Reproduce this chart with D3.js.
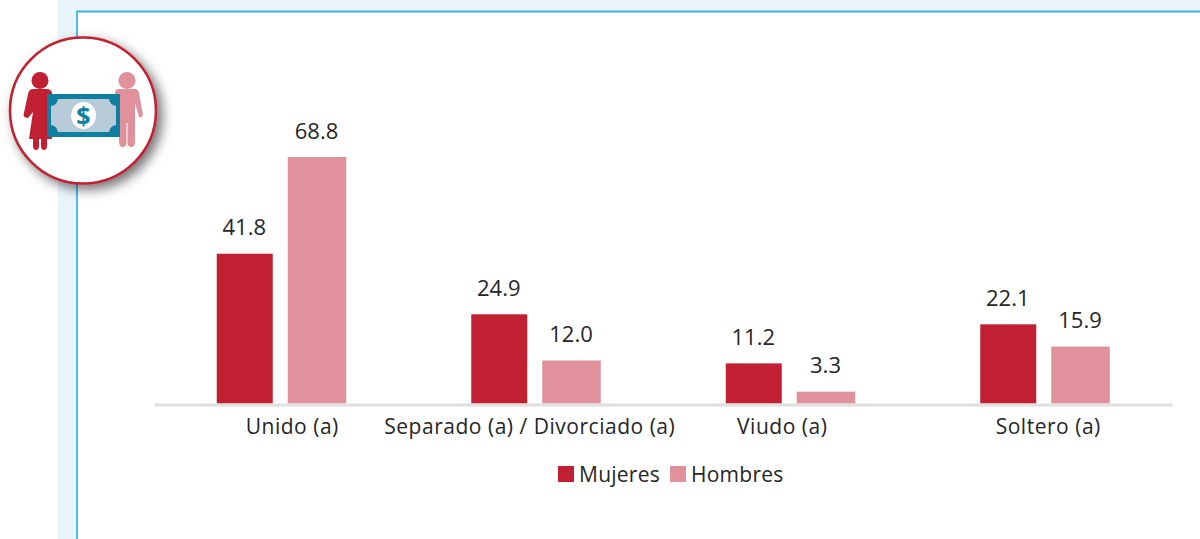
<!DOCTYPE html>
<html><head><meta charset="utf-8">
<script src="https://cdn.jsdelivr.net/npm/d3@7/dist/d3.min.js"></script>
<style>html,body{margin:0;padding:0;background:#fff}svg{display:block}text{font-family:"Open Sans",Lato,sans-serif;fill:#262626}</style>
</head><body><svg id="c" width="1200" height="539"></svg>
<script>
const categories=["Unido (a)","Separado (a) / Divorciado (a)","Viudo (a)","Soltero (a)"];
const seriesNames=["Mujeres","Hombres"];
const mujeres=[41.8,24.9,11.2,22.1];
const hombres=[68.8,12.0,3.3,15.9];
const seriesColors=["#c12033","#e0919b"];

const svg=d3.select("#c");
// page panel
svg.append("rect").attr("x",58).attr("y",0).attr("width",1142).attr("height",539).attr("fill","#eaf4fb");
svg.append("rect").attr("x",77).attr("y",11.5).attr("width",1123).attr("height",528).attr("fill","#fff");
svg.append("path").attr("d","M77 539V11.5H1200").attr("fill","none").attr("stroke","#3db5e6").attr("stroke-width",1.8);

const baseY=403.5;
const x=d3.scaleBand().domain(categories).range([154,1172]);
const y=d3.scaleLinear().domain([0,68.8]).range([baseY,157]);
const gapOffset=[-64.5,6.5], barW=[56,58.5];
const labelShift=[11,-6,-8,3.5];
const rows=[mujeres,hombres];

rows.forEach((vals,s)=>{
  const g=svg.append("g");
  g.selectAll("rect").data(vals).join("rect")
    .attr("x",(d,i)=>x.bandwidth()/2+x(categories[i])+gapOffset[s])
    .attr("y",d=>y(d)).attr("width",barW[s]).attr("height",d=>baseY-y(d)).attr("fill",seriesColors[s]);
  g.selectAll("text").data(vals).join("text")
    .attr("x",(d,i)=>x.bandwidth()/2+x(categories[i])+gapOffset[s]+barW[s]/2-0.5)
    .attr("y",d=>y(d)-18.5).attr("text-anchor","middle").attr("font-size",22)
    .text(d=>d.toFixed(1));
});
// axis
const axis=d3.axisBottom(x).tickSize(0).tickPadding(0);
const ax=svg.append("g").attr("transform",`translate(0,${baseY+1})`).call(axis);
ax.select(".domain").attr("stroke","#dfdfdf").attr("stroke-width",3);
ax.selectAll(".tick text").attr("y",29.5).attr("dy",0)
  .attr("x",(d,i)=>labelShift[i])
  .style("font-family","Open Sans").style("letter-spacing","0.52px").attr("font-size",21).attr("fill","#262626");

// legend
const legX=[558,670];
seriesNames.forEach((n,i)=>{
  svg.append("rect").attr("x",legX[i]).attr("y",466).attr("width",16).attr("height",16).attr("fill",seriesColors[i]);
  svg.append("text").attr("x",legX[i]+21).attr("y",482).attr("font-size",21).style("letter-spacing","0.25px").text(n);
});

// icon
const defs=svg.append("defs");
const f=defs.append("filter").attr("id","sh").attr("x","-30%").attr("y","-30%").attr("width","170%").attr("height","170%");
f.append("feDropShadow").attr("dx",5).attr("dy",5).attr("stdDeviation",6).attr("flood-color","#000").attr("flood-opacity",.55);
const ic=svg.append("g");
ic.append("circle").attr("cx",83).attr("cy",110.5).attr("r",73).attr("fill","#fff").attr("stroke","#c12033").attr("stroke-width",2.6).attr("filter","url(#sh)");
const R=seriesColors[0],P=seriesColors[1],T="#0f7f9f";
// woman
ic.append("circle").attr("cx",40).attr("cy",80.5).attr("r",8.5).attr("fill",R);
ic.append("path").attr("fill",R).attr("d","M33 89H47Q51 89 52 93V139H29L33 112L28 118Q24 118 23.5 115L28 94Q29 89 33 89Z");
ic.append("path").attr("fill",R).attr("d","M33 138H39V146Q39 150 36 150Q33 150 33 146ZM41 138H47V146Q47 150 44 150Q41 150 41 146Z");
// man
ic.append("circle").attr("cx",127).attr("cy",80.5).attr("r",8.5).attr("fill",P);
ic.append("path").attr("fill",P).attr("d","M118 89H135Q138 89 139 93L143 115Q142 118 139 117L135 103V142Q135 147 131 147Q128 147 127.5 143V123H126.5V143Q126 147 123 147Q119 147 119 142V137H115V92Q116 89 118 89Z");
// bill
ic.append("rect").attr("x",47).attr("y",94).attr("width",73).attr("height",43).attr("fill",T);
ic.append("path").attr("fill","#b7cbd9").attr("d","M58 99H109Q110 105 116 106V125Q110 126 109 132H58Q57 126 51 125V106Q57 105 58 99Z");
ic.append("ellipse").attr("cx",83.5).attr("cy",115.5).attr("rx",12.5).attr("ry",13.5).attr("fill","#fff");
ic.append("text").attr("x",83.5).attr("y",124.5).attr("text-anchor","middle").attr("font-size",25).attr("font-weight",700).style("fill",T).text("$");
</script></body></html>
